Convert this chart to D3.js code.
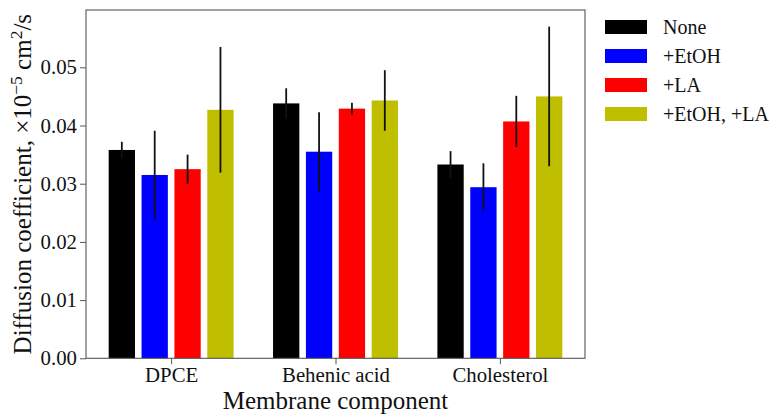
<!DOCTYPE html>
<html><head><meta charset="utf-8">
<script src="https://cdn.jsdelivr.net/npm/d3@7"></script>
<style>body{margin:0;background:#fff}svg{display:block}svg text{font-family:'Liberation Serif','Times New Roman','DejaVu Serif',serif !important;fill:#111}</style>
</head><body><svg id="c" width="776" height="418"></svg>
<script>
const categories = ["DPCE", "Behenic acid", "Cholesterol"];
const seriesNames = ["None", "+EtOH", "+LA", "+EtOH, +LA"];
const seriesColors = ["#000000", "#0000ff", "#ff0000", "#bfbf00"];
const noneVals = [0.0358, 0.0438, 0.0333];
const noneErr = [0.0014, 0.0026, 0.0023];
const etohVals = [0.0315, 0.0355, 0.0294];
const etohErr = [0.0076, 0.0068, 0.0041];
const laVals = [0.0325, 0.0429, 0.0407];
const laErr = [0.0025, 0.0010, 0.0044];
const etohLaVals = [0.0427, 0.0443, 0.0450];
const etohLaErr = [0.0108, 0.0052, 0.0120];
const yTicks = [0.00, 0.01, 0.02, 0.03, 0.04, 0.05];

const values = [noneVals, etohVals, laVals, etohLaVals];
const errs = [noneErr, etohErr, laErr, etohLaErr];
const FONT = "Liberation Serif";

const svg = d3.select("#c");
const L = 86, R = 585, T = 10, B = 358.3;
const x = d3.scaleLinear().domain([-0.518, 2.518]).range([L, R]);
const y = d3.scaleLinear().domain([0, 0.05985]).range([B, T]);
const barW = 0.16, step = 0.2;

const data = [];
values.forEach((arr, s) => arr.forEach((v, i) => data.push({s, i, v, e: errs[s][i]})));

svg.append("g").selectAll("rect").data(data).join("rect")
  .attr("x", d => x(d.i + (d.s - 1.5) * step - barW / 2))
  .attr("width", d => x(barW) - x(0))
  .attr("y", d => y(d.v))
  .attr("height", d => y(0) - y(d.v))
  .attr("fill", d => seriesColors[d.s]);

svg.append("g").selectAll("line").data(data).join("line")
  .attr("x1", d => x(d.i + (d.s - 1.5) * step))
  .attr("x2", d => x(d.i + (d.s - 1.5) * step))
  .attr("y1", d => y(d.v - d.e))
  .attr("y2", d => y(d.v + d.e))
  .attr("stroke", "#111").attr("stroke-width", 1.8);

// frame
svg.append("rect").attr("x", L).attr("y", T).attr("width", R - L).attr("height", B - T)
  .attr("fill", "none").attr("stroke", "#555").attr("stroke-width", 1.1);

// y axis
const ya = svg.append("g").attr("transform", `translate(${L},0)`)
  .call(d3.axisLeft(y).tickValues(yTicks).tickFormat(d3.format(".2f")).tickSize(6).tickPadding(3))
  .attr("font-family", FONT).attr("font-size", 20.8);
ya.select(".domain").remove();
ya.selectAll("line").attr("stroke", "#555");
ya.selectAll("text").style("font-family", FONT).style("font-size", "20.8px").attr("fill", "#111");

// x axis
const xa = svg.append("g").attr("transform", `translate(0,${B})`)
  .call(d3.axisBottom(x).tickValues([0, 1, 2]).tickFormat(i => categories[i]).tickSize(6).tickPadding(3))
  .attr("font-family", FONT).attr("font-size", 20.8);
xa.select(".domain").remove();
xa.selectAll("line").attr("stroke", "#555");
xa.selectAll("text").style("font-family", FONT).style("font-size", "20.8px").attr("fill", "#111");

// axis labels
svg.append("text").attr("x", (L + R) / 2).attr("y", 408.5).attr("text-anchor", "middle")
  .style("font-family", FONT).style("font-size", "25px").text("Membrane component");

const yl = svg.append("text").attr("transform", `translate(31,${(T + B) / 2}) rotate(-90)`)
  .attr("text-anchor", "middle").style("font-family", FONT).style("font-size", "25px");
yl.append("tspan").text("Diffusion coefficient, \u00d710");
yl.append("tspan").attr("dy", -9).style("font-size", "17.5px").text("\u22125");
yl.append("tspan").attr("dy", 9).text(" cm");
yl.append("tspan").attr("dy", -9).style("font-size", "17.5px").text("2");
yl.append("tspan").attr("dy", 9).text("/s");

// legend
const lg = svg.append("g");
seriesNames.forEach((n, k) => {
  const cy = 27 + k * 29;
  lg.append("rect").attr("x", 605).attr("y", cy - 7).attr("width", 42).attr("height", 14).attr("fill", seriesColors[k]);
  lg.append("text").attr("x", 663).attr("y", cy + 7).style("font-family", FONT).style("font-size", "20px").text(n);
});
</script></body></html>
